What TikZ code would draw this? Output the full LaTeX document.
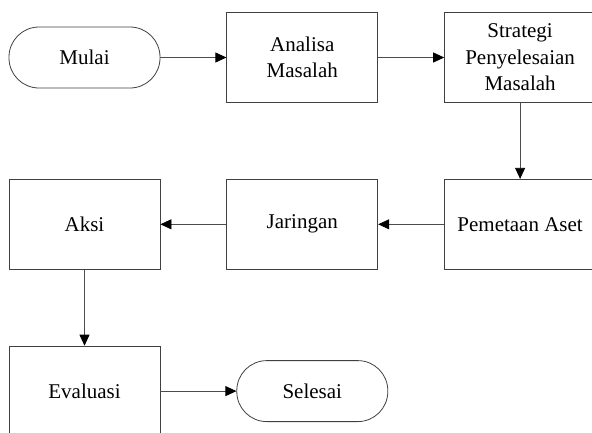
\documentclass[tikz,border=0pt]{standalone}
\usepackage{fontspec}
\setmainfont{Liberation Serif}
\usetikzlibrary{positioning,arrows.meta}

\begin{document}
\begin{tikzpicture}[node distance = 76pt and 66pt, x=1pt, y=1pt]
        \tikzset{BoxStyle/.style = {draw  = black!75,
            line width = 0.8pt,
            minimum width  = 151pt,
            minimum height = 90pt,
            align = center,
            font  = \fontsize{21}{26.5}\selectfont}}
        \tikzset{TermStyle/.style = {BoxStyle,
            rounded corners = 30pt,
            minimum height  = 61pt}}
        \tikzset{EdgeStyle/.style = {draw = black!70,
            line width = 0.8pt,
            -{Triangle[length=11pt,width=10pt,black]}}}
        \useasboundingbox (0,0) rectangle (592,-432);
        \clip (0,0) rectangle (592,-432);
        \node[TermStyle] (Mulai) at (84.5,-57.5) {Mulai};
        \node[BoxStyle, right=of Mulai] (Analisa) {Analisa\\Masalah};
        \node[BoxStyle, right=of Analisa] (Strategi) {Strategi\\Penyelesaian\\Masalah};
        \node[BoxStyle, below=of Strategi] (Pemetaan) {Pemetaan Aset};
        \node[BoxStyle, left=of Pemetaan] (Jaringan) {Jaringan};
        \node[BoxStyle, left=of Jaringan] (Aksi) {Aksi};
        \node[BoxStyle, below=of Aksi] (Evaluasi) {Evaluasi};
        \node[TermStyle, right=76pt of Evaluasi] (Selesai) {Selesai};
        \draw[EdgeStyle] (Mulai) -- (Analisa);
        \draw[EdgeStyle] (Analisa) -- (Strategi);
        \draw[EdgeStyle] (Strategi) -- (Pemetaan);
        \draw[EdgeStyle] (Pemetaan) -- (Jaringan);
        \draw[EdgeStyle] (Jaringan) -- (Aksi);
        \draw[EdgeStyle] (Aksi) -- (Evaluasi);
        \draw[EdgeStyle] (Evaluasi) -- (Selesai);
      \end{tikzpicture}
\end{document}
